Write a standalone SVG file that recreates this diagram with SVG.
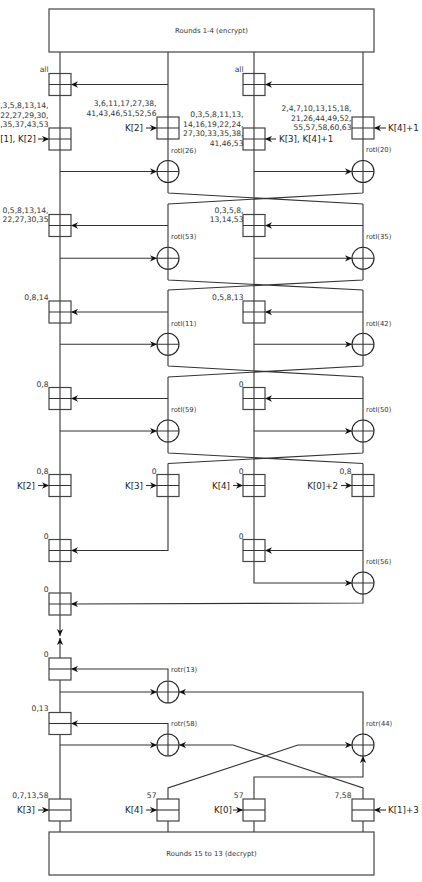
<svg xmlns="http://www.w3.org/2000/svg" width="422" height="882" viewBox="0 0 422 882">
<style>
.ln{fill:none;stroke:#333;stroke-width:1.1}
.ar{marker-end:url(#ah)}
.bx rect,.rb{fill:#fff;stroke:#444;stroke-width:1.2}
.bx path,.xo path{fill:none;stroke:#333;stroke-width:1.1}
.xo circle{fill:#fff;stroke:#222;stroke-width:1.1}
text{font-family:"DejaVu Sans","Liberation Sans",sans-serif;fill:#333}
.lb{font-size:7.6px;text-anchor:end}
.k{font-size:8.7px;fill:#222}
.ke{text-anchor:end}
.rt{font-size:6.8px}
.tt{font-size:6.9px;text-anchor:middle}
</style>
<defs>
<marker id="ah" viewBox="0 0 10 10" refX="10" refY="5" markerWidth="7" markerHeight="7" markerUnits="userSpaceOnUse" orient="auto"><path d="M0,0.5 L10,5 L0,9.5 L3,5 z" fill="#111"/></marker>
</defs>
<g id="connectors" class="ln">
<path d="M60,52V636" class="ar"/>
<path d="M60,658V638" class="ar"/>
<path d="M60,680V799M60,821V832M168,821V832M254,821V832M363,821V832"/>
<path d="M168,52V193M363,52V193M168,193L363,204M363,193L168,204"/>
<path d="M168,204V280M363,204V280M168,280L363,290M363,280L168,290"/>
<path d="M168,290V366M363,290V366M168,366L363,377M363,366L168,377"/>
<path d="M168,377V453M363,377V453M168,453L363,463.5M363,453L168,463.5"/>
<path d="M168,463.5V550.5H71" class="ar"/>
<path d="M363,463.5V603L71,604" class="ar"/>
<path d="M254,52V583H352" class="ar"/>
<path d="M168,84.5H71" class="ar"/><path d="M363,84.5H265" class="ar"/>
<path d="M60,171.5H157" class="ar"/><path d="M254,171.5H352" class="ar"/>
<path d="M168,225.5H71" class="ar"/><path d="M363,225.5H265" class="ar"/>
<path d="M60,258.3H157" class="ar"/><path d="M254,258.3H352" class="ar"/>
<path d="M168,312H71" class="ar"/><path d="M363,312H265" class="ar"/>
<path d="M60,344.3H157" class="ar"/><path d="M254,344.3H352" class="ar"/>
<path d="M168,398.5H71" class="ar"/><path d="M363,398.5H265" class="ar"/>
<path d="M60,431H157" class="ar"/><path d="M254,431H352" class="ar"/>
<path d="M363,550.5H265" class="ar"/>
<path d="M38,139H49" class="ar"/><path d="M146,128H157" class="ar"/>
<path d="M276,139H265" class="ar"/><path d="M386,128H374" class="ar"/>
<path d="M38,485.5H49" class="ar"/><path d="M146,485.5H157" class="ar"/>
<path d="M233,485.5H243" class="ar"/><path d="M341,485.5H352" class="ar"/>
<path d="M168,680.5V669H71" class="ar"/>
<path d="M60,692H157" class="ar"/>
<path d="M363,734V692H179" class="ar"/>
<path d="M168,734V723.5H71" class="ar"/>
<path d="M60,745H157" class="ar"/>
<path d="M363,799V788L233,745H179" class="ar"/>
<path d="M168,799V788L298,745H352" class="ar"/>
<path d="M254,799V777H363V756" class="ar"/>
<path d="M38,810H49" class="ar"/><path d="M146,810H157" class="ar"/>
<path d="M233,810H243" class="ar"/><path d="M386,810H374" class="ar"/>
</g>
<g id="top"><rect class="rb" x="49" y="9" width="325" height="43"/><text class="tt" x="211.5" y="33.3">Rounds 1-4 (encrypt)</text></g>
<g id="bottom"><rect class="rb" x="49" y="832" width="325" height="43"/><text class="tt" x="211.5" y="855.6">Rounds 15 to 13 (decrypt)</text></g>

<g id="b1" class="bx"><rect x="49" y="73.5" width="22" height="22"/><path d="M49,84.5H71M60,73.5V95.5"/><text class="lb" x="48.5" y="71.8">all</text></g>
<g id="b2" class="bx"><rect x="243" y="73.5" width="22" height="22"/><path d="M243,84.5H265M254,73.5V95.5"/><text class="lb" x="243.5" y="71.8">all</text></g>
<g id="b3" class="bx"><rect x="49" y="128" width="22" height="22"/><path d="M49,139H71M60,128V150"/><text class="lb" x="48.5" y="108">,3,5,8,13,14,</text><text class="lb" x="48.5" y="117.5">22,27,29,30,</text><text class="lb" x="48.5" y="127">,35,37,43,53</text><text class="k ke" x="36" y="141.5">[1], K[2]</text></g>
<g id="b4" class="bx"><rect x="157" y="117" width="22" height="22"/><path d="M157,128H179M168,117V139"/><text class="lb" x="156.5" y="105.5">3,6,11,17,27,38,</text><text class="lb" x="156.5" y="115.5">41,43,46,51,52,56</text><text class="k ke" x="143" y="130.8">K[2]</text></g>
<g id="b5" class="bx"><rect x="243" y="128" width="22" height="22"/><path d="M243,139H265M254,128V150"/><text class="lb" x="243.5" y="117">0,3,5,8,11,13,</text><text class="lb" x="243.5" y="126.5">14,16,19,22,24,</text><text class="lb" x="243.5" y="136">27,30,33,35,38,</text><text class="lb" x="243.5" y="145.5">41,46,53</text><text class="k" x="279" y="141.5">K[3], K[4]+1</text></g>
<g id="b6" class="bx"><rect x="352" y="117" width="22" height="22"/><path d="M352,128H374M363,117V139"/><text class="lb" x="351.5" y="111">2,4,7,10,13,15,18,</text><text class="lb" x="351.5" y="120.5">21,26,44,49,52,</text><text class="lb" x="351.5" y="130">55,57,58,60,63</text><text class="k" x="388" y="130.8">K[4]+1</text></g>
<g id="b7" class="bx"><rect x="49" y="214.5" width="22" height="22"/><path d="M49,225.5H71M60,214.5V236.5"/><text class="lb" x="48.5" y="212.8">0,5,8,13,14,</text><text class="lb" x="48.5" y="221.8">22,27,30,35</text></g>
<g id="b8" class="bx"><rect x="243" y="214.5" width="22" height="22"/><path d="M243,225.5H265M254,214.5V236.5"/><text class="lb" x="243.5" y="212.8">0,3,5,8,</text><text class="lb" x="243.5" y="221.8">13,14,53</text></g>
<g id="b9" class="bx"><rect x="49" y="301" width="22" height="22"/><path d="M49,312H71M60,301V323"/><text class="lb" x="48.5" y="300">0,8,14</text></g>
<g id="b10" class="bx"><rect x="243" y="301" width="22" height="22"/><path d="M243,312H265M254,301V323"/><text class="lb" x="243.5" y="300">0,5,8,13</text></g>
<g id="b11" class="bx"><rect x="49" y="387.5" width="22" height="22"/><path d="M49,398.5H71M60,387.5V409.5"/><text class="lb" x="48.5" y="386.8">0,8</text></g>
<g id="b12" class="bx"><rect x="243" y="387.5" width="22" height="22"/><path d="M243,398.5H265M254,387.5V409.5"/><text class="lb" x="243.5" y="386.8">0</text></g>
<g id="b13" class="bx"><rect x="49" y="474.5" width="22" height="22"/><path d="M49,485.5H71M60,474.5V496.5"/><text class="lb" x="48.5" y="473.5">0,8</text><text class="k ke" x="35" y="488.7">K[2]</text></g>
<g id="b14" class="bx"><rect x="157" y="474.5" width="22" height="22"/><path d="M157,485.5H179M168,474.5V496.5"/><text class="lb" x="156.5" y="473.5">0</text><text class="k ke" x="143" y="488.7">K[3]</text></g>
<g id="b15" class="bx"><rect x="243" y="474.5" width="22" height="22"/><path d="M243,485.5H265M254,474.5V496.5"/><text class="lb" x="243.5" y="473.5">0</text><text class="k ke" x="230" y="488.7">K[4]</text></g>
<g id="b16" class="bx"><rect x="352" y="474.5" width="22" height="22"/><path d="M352,485.5H374M363,474.5V496.5"/><text class="lb" x="351.5" y="473.5">0,8</text><text class="k ke" x="338" y="488.7">K[0]+2</text></g>
<g id="b17" class="bx"><rect x="49" y="539.5" width="22" height="22"/><path d="M49,550.5H71M60,539.5V561.5"/><text class="lb" x="48.5" y="538.5">0</text></g>
<g id="b18" class="bx"><rect x="243" y="539.5" width="22" height="22"/><path d="M243,550.5H265M254,539.5V561.5"/><text class="lb" x="243.5" y="538.5">0</text></g>
<g id="b19" class="bx"><rect x="49" y="593" width="22" height="22"/><path d="M49,604H71M60,593V615"/><text class="lb" x="48.5" y="591.8">0</text></g>
<g id="b20" class="bx"><rect x="49" y="658" width="22" height="22"/><path d="M49,669H71"/><text class="lb" x="48.5" y="656.8">0</text></g>
<g id="b21" class="bx"><rect x="49" y="712.5" width="22" height="22"/><path d="M49,723.5H71"/><text class="lb" x="48.5" y="710.5">0,13</text></g>
<g id="b22" class="bx"><rect x="49" y="799" width="22" height="22"/><path d="M49,810H71"/><text class="lb" x="48.5" y="797.8">0,7,13,58</text><text class="k ke" x="35" y="813">K[3]</text></g>
<g id="b23" class="bx"><rect x="157" y="799" width="22" height="22"/><path d="M157,810H179"/><text class="lb" x="156.5" y="797.8">57</text><text class="k ke" x="143" y="813">K[4]</text></g>
<g id="b24" class="bx"><rect x="243" y="799" width="22" height="22"/><path d="M243,810H265"/><text class="lb" x="243.5" y="797.8">57</text><text class="k ke" x="232" y="813">K[0]</text></g>
<g id="b25" class="bx"><rect x="352" y="799" width="22" height="22"/><path d="M352,810H374"/><text class="lb" x="351.5" y="797.8">7,58</text><text class="k" x="388" y="813">K[1]+3</text></g>

<g id="x1" class="xo"><circle cx="168" cy="171.5" r="11"/><path d="M157,171.5H179M168,160.5V182.5"/><text class="rt" x="171" y="152.5">rotl(26)</text></g>
<g id="x2" class="xo"><circle cx="363" cy="171.5" r="11"/><path d="M352,171.5H374M363,160.5V182.5"/><text class="rt" x="366" y="152">rotl(20)</text></g>
<g id="x3" class="xo"><circle cx="168" cy="258.3" r="11"/><path d="M157,258.3H179M168,247.3V269.3"/><text class="rt" x="171" y="239.2">rotl(53)</text></g>
<g id="x4" class="xo"><circle cx="363" cy="258.3" r="11"/><path d="M352,258.3H374M363,247.3V269.3"/><text class="rt" x="366" y="239">rotl(35)</text></g>
<g id="x5" class="xo"><circle cx="168" cy="344.3" r="11"/><path d="M157,344.3H179M168,333.3V355.3"/><text class="rt" x="171" y="325.8">rotl(11)</text></g>
<g id="x6" class="xo"><circle cx="363" cy="344.3" r="11"/><path d="M352,344.3H374M363,333.3V355.3"/><text class="rt" x="366" y="325.8">rotl(42)</text></g>
<g id="x7" class="xo"><circle cx="168" cy="431" r="11"/><path d="M157,431H179M168,420V442"/><text class="rt" x="171" y="411.8">rotl(59)</text></g>
<g id="x8" class="xo"><circle cx="363" cy="431" r="11"/><path d="M352,431H374M363,420V442"/><text class="rt" x="366" y="411.8">rotl(50)</text></g>
<g id="x9" class="xo"><circle cx="363" cy="583" r="11"/><path d="M352,583H374M363,572V594"/><text class="rt" x="366" y="564.2">rotl(56)</text></g>
<g id="x10" class="xo"><circle cx="168" cy="692" r="11"/><path d="M157,692H179M168,681V703"/><text class="rt" x="171" y="671.8">rotr(13)</text></g>
<g id="x11" class="xo"><circle cx="168" cy="745" r="11"/><path d="M157,745H179M168,734V756"/><text class="rt" x="171" y="725.8">rotr(58)</text></g>
<g id="x12" class="xo"><circle cx="363" cy="745" r="11"/><path d="M352,745H374M363,734V756"/><text class="rt" x="366" y="725.8">rotr(44)</text></g>
</svg>
